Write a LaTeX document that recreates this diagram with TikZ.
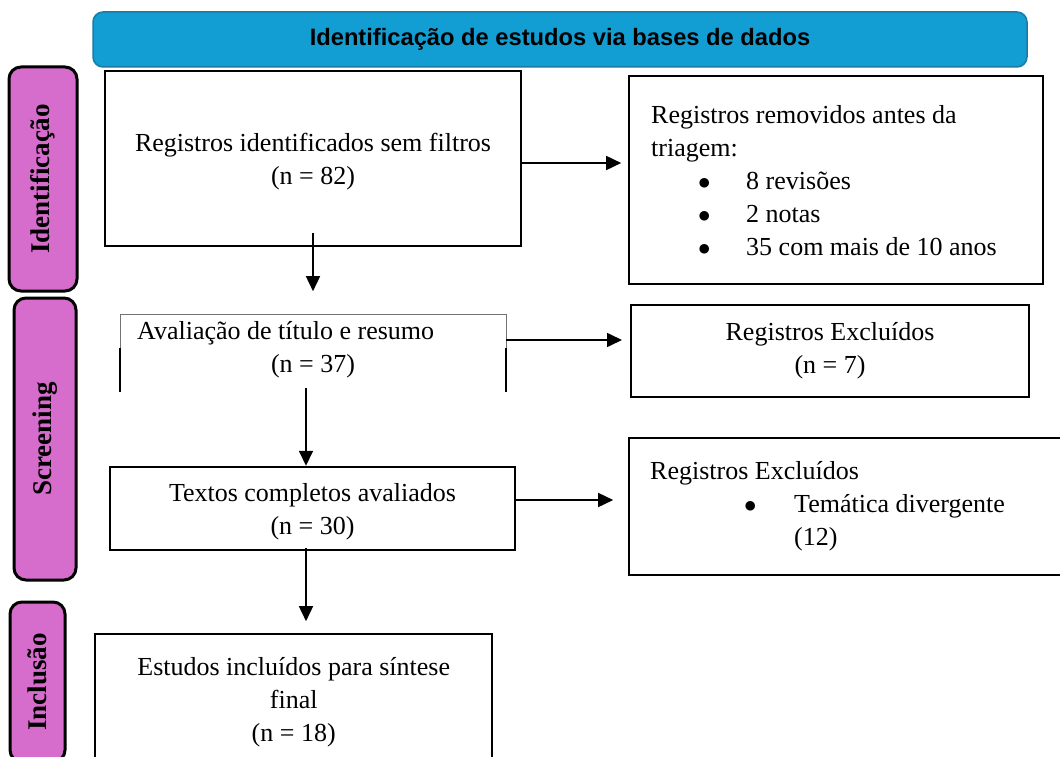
\documentclass[tikz,border=0pt]{standalone}
\usepackage{fontspec}
\setmainfont{Liberation Serif}
\newfontfamily\cabfont{Liberation Sans}
\usepackage{tikz}
\usetikzlibrary{arrows.meta}
\usetikzlibrary{positioning}
\definecolor{cabeca}{HTML}{129ED3}
\definecolor{cabecaborda}{HTML}{1A7BA5}
\definecolor{faserosa}{HTML}{D66CCB}

\begin{document}
\begin{tikzpicture}[x=1pt, y=-1pt,
  box/.style={draw, line width=2.4pt, align=center, inner sep=0pt, font=\fontsize{26}{33}\selectfont},
  fase/.style={draw, line width=3pt, rounded corners=12pt, fill=faserosa, rotate=90, inner sep=0pt, font=\bfseries\fontsize{27}{30}\selectfont},
  seta/.style={line width=1.6pt, -{Triangle[length=15pt,width=14pt]}}]
\useasboundingbox (0,0) rectangle (1060,757);
\clip (0,0) rectangle (1060,757);

% cabecalho
\node[draw=cabecaborda, line width=1.5pt, fill=cabeca, rounded corners=10pt, minimum width=934pt, minimum height=55pt,
  font=\cabfont\bfseries\fontsize{23.7}{28}\selectfont] (cab) at (560,39.5) {Identificação de estudos via bases de dados};

% fases
\foreach \nome/\rotulo/\cx/\cy/\alt/\larg in {ident/Identificação/43/179/224/68, scr/Screening/45/439/282/62, incl/Inclusão/37.5/682/160/55}
  \node[fase, minimum width=\alt pt, minimum height=\larg pt] (fase-\nome) at (\cx,\cy) {\rotulo};

% caixas
\node[box, minimum width=416pt, minimum height=175pt, text depth=0pt] (regid) at (313,158.5) {Registros identificados sem filtros\\(n = 82)};
\node[box, align=flush left, text width=370pt, inner xsep=22pt, minimum height=208pt, anchor=north west] (remov) at (628,75)
  {Registros removidos antes da\\triagem:\\
   \makebox[95pt][l]{\hspace*{47pt}$\bullet$}8 revisões\\
   \makebox[95pt][l]{\hspace*{47pt}$\bullet$}2 notas\\
   \makebox[95pt][l]{\hspace*{47pt}$\bullet$}35 com mais de 10 anos};

\node[anchor=west, inner sep=0pt, font=\fontsize{26}{33}\selectfont] (aval) at (137,333) {Avaliação de título e resumo};
\node[inner sep=0pt, font=\fontsize{26}{33}\selectfont] (avaln) at (313,366) {(n = 37)};
\draw[black!55, line width=1pt] (120,348) -- (120,314) -- (506,314) -- (506,348);
\draw[line width=2.4pt] (120,348) -- (120,392) (506,348) -- (506,392);
\coordinate (avalR) at (506,340);

\node[box, minimum width=398pt, minimum height=92pt] (exc1) at (830,351) {Registros Excluídos\\(n = 7)};
\node[box, minimum width=405pt, minimum height=83pt, text depth=0pt] (textos) at (312.5,508.5) {Textos completos avaliados\\(n = 30)};
\node[box, align=flush left, text width=420pt, inner xsep=21pt, minimum height=137pt, anchor=north west] (exc2) at (628,437)
  {Registros Excluídos\\
   \makebox[144pt][l]{\hspace*{94pt}$\bullet$}Temática divergente\\
   \hspace*{144pt}(12)};
\node[box, minimum width=397pt, minimum height=137pt, anchor=north west] (estudos) at (94,633) {Estudos incluídos para síntese\\final\\(n = 18)};

% setas
\draw[seta] ([yshift=-4.5pt]regid.east) -- ++(99,0);
\draw[seta] ([yshift=14pt]regid.south) -- ++(0,58);
\draw[seta] (avalR) -- ++(116,0);
\draw[seta] ([xshift=-7pt,yshift=-10pt]avaln.south) -- ([xshift=-6.5pt]textos.north);
\draw[seta] ([yshift=8.5pt]textos.east) -- ++(97,0);
\draw[seta] ([xshift=-6.5pt,yshift=3pt]textos.south) -- ++(0,73);
\end{tikzpicture}
\end{document}
